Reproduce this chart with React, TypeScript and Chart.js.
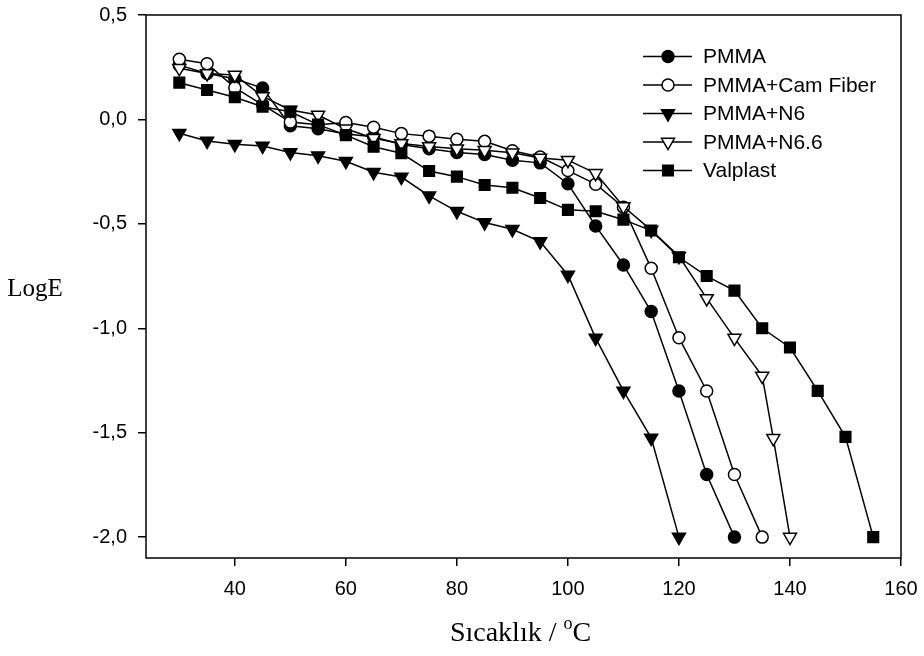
import React, { useEffect, useRef } from 'react';
import { Chart, registerables } from 'chart.js';

Chart.register(...registerables);

// ---- data ----
const pmmaX = [30, 35, 40, 45, 50, 55, 60, 65, 70, 75, 80, 85, 90, 95, 100, 105, 110, 115, 120, 125, 130];
const pmmaY = [0.26, 0.22, 0.195, 0.15, -0.03, -0.045, -0.07, -0.083, -0.12, -0.14, -0.158, -0.168, -0.195, -0.208, -0.308, -0.51, -0.697, -0.92, -1.3, -1.7, -2.0];

const camX = [30, 35, 40, 45, 50, 55, 60, 65, 70, 75, 80, 85, 90, 95, 100, 105, 110, 115, 120, 125, 130, 135];
const camY = [0.288, 0.267, 0.152, 0.07, -0.012, -0.025, -0.015, -0.037, -0.068, -0.08, -0.095, -0.105, -0.15, -0.18, -0.245, -0.31, -0.42, -0.713, -1.045, -1.3, -1.7, -2.0];

const n6X = [30, 35, 40, 45, 50, 55, 60, 65, 70, 75, 80, 85, 90, 95, 100, 105, 110, 115, 120];
const n6Y = [-0.066, -0.103, -0.119, -0.127, -0.158, -0.174, -0.2, -0.253, -0.276, -0.366, -0.44, -0.494, -0.526, -0.585, -0.745, -1.047, -1.3, -1.525, -2.0];

const n66X = [30, 35, 40, 45, 50, 55, 60, 65, 70, 75, 80, 85, 90, 95, 100, 105, 110, 115, 120, 125, 130, 135, 137, 140];
const n66Y = [0.245, 0.22, 0.213, 0.11, 0.045, 0.021, -0.045, -0.09, -0.115, -0.13, -0.14, -0.148, -0.16, -0.185, -0.195, -0.258, -0.417, -0.53, -0.655, -0.857, -1.047, -1.229, -1.527, -2.0];

const valX = [30, 35, 40, 45, 50, 55, 60, 65, 70, 75, 80, 85, 90, 95, 100, 105, 110, 115, 120, 125, 130, 135, 140, 145, 150, 155];
const valY = [0.176, 0.141, 0.106, 0.061, 0.037, -0.025, -0.075, -0.131, -0.162, -0.247, -0.274, -0.314, -0.327, -0.376, -0.433, -0.44, -0.48, -0.532, -0.66, -0.75, -0.82, -1.0, -1.092, -1.3, -1.52, -2.0];

const seriesLabels = ['PMMA', 'PMMA+Cam Fiber', 'PMMA+N6', 'PMMA+N6.6', 'Valplast'];
const xTicks = [40, 60, 80, 100, 120, 140, 160];
const yTicks = [-2.0, -1.5, -1.0, -0.5, 0.0, 0.5];
const xTitleMain = 'Sıcaklık / ';
const xTitleSup = 'o';
const xTitleEnd = 'C';
const yTitle = 'LogE';

type Style = { shape: string; fill: string; r: number; rot: number };
const styles: Style[] = [
  { shape: 'circle', fill: '#000', r: 6, rot: 0 },
  { shape: 'circle', fill: '#fff', r: 6, rot: 0 },
  { shape: 'triangle', fill: '#000', r: 7.5, rot: 180 },
  { shape: 'triangle', fill: '#fff', r: 7.5, rot: 180 },
  { shape: 'rect', fill: '#000', r: 7.5, rot: 0 },
];

function drawMarker(ctx: CanvasRenderingContext2D, s: Style, x: number, y: number) {
  ctx.save();
  ctx.fillStyle = s.fill;
  ctx.strokeStyle = '#000';
  ctx.lineWidth = 1.5;
  ctx.beginPath();
  if (s.shape === 'circle') {
    ctx.arc(x, y, s.r, 0, Math.PI * 2);
  } else if (s.shape === 'rect') {
    const h = (s.r * Math.SQRT2) / 2;
    ctx.rect(x - h, y - h, 2 * h, 2 * h);
  } else {
    let rad = (s.rot * Math.PI) / 180;
    ctx.moveTo(x + Math.sin(rad) * s.r, y - Math.cos(rad) * s.r);
    rad += (2 * Math.PI) / 3;
    ctx.lineTo(x + Math.sin(rad) * s.r, y - Math.cos(rad) * s.r);
    rad += (2 * Math.PI) / 3;
    ctx.lineTo(x + Math.sin(rad) * s.r, y - Math.cos(rad) * s.r);
    ctx.closePath();
  }
  ctx.fill();
  ctx.stroke();
  ctx.restore();
}

const fmt = (v: number) => v.toFixed(1).replace('.', ',');

const App = () => {
  const ref = useRef<HTMLCanvasElement>(null);

  useEffect(() => {
    const canvas = ref.current;
    if (!canvas) return;
    const xs = [pmmaX, camX, n6X, n66X, valX];
    const ys = [pmmaY, camY, n6Y, n66Y, valY];

    const datasets = seriesLabels.map((label, i) => ({
      label,
      data: xs[i].map((x, j) => ({ x, y: ys[i][j] })),
      showLine: true,
      borderColor: '#000',
      borderWidth: 1.5,
      tension: 0,
      fill: false,
      pointStyle: styles[i].shape,
      pointRadius: styles[i].r,
      pointRotation: styles[i].rot,
      pointBackgroundColor: styles[i].fill,
      pointBorderColor: '#000',
      pointBorderWidth: 1.5,
      order: 5 - i,
      clip: false as any,
    }));

    const framePlugin = {
      id: 'frameAndText',
      afterDraw(chart: any) {
        const { ctx, chartArea } = chart;
        ctx.save();
        ctx.strokeStyle = '#000';
        ctx.lineWidth = 1.5;
        ctx.strokeRect(chartArea.left, chartArea.top, chartArea.right - chartArea.left, chartArea.bottom - chartArea.top);

        // legend
        const lx0 = 643, lx1 = 692, mx = 668, tx = 703;
        const rowY = [56.5, 85, 113.5, 142, 170.5];
        ctx.font = '21px "Liberation Sans", Arial, sans-serif';
        ctx.textBaseline = 'middle';
        ctx.textAlign = 'left';
        seriesLabels.forEach((lab, i) => {
          const y = rowY[i];
          ctx.beginPath();
          ctx.moveTo(lx0, y);
          ctx.lineTo(lx1, y);
          ctx.lineWidth = 1.5;
          ctx.strokeStyle = '#000';
          ctx.stroke();
          drawMarker(ctx, styles[i], mx, y);
          ctx.fillStyle = '#000';
          ctx.fillText(lab, tx, y + 1);
        });

        // y axis title
        ctx.fillStyle = '#000';
        ctx.font = '25px "Liberation Serif", "Times New Roman", serif';
        ctx.textAlign = 'center';
        ctx.textBaseline = 'middle';
        ctx.fillText(yTitle, 35, 289);

        // x axis title with superscript o
        const mainFont = '28px "Liberation Serif", "Times New Roman", serif';
        const supFont = '18px "Liberation Serif", "Times New Roman", serif';
        ctx.textAlign = 'left';
        ctx.textBaseline = 'alphabetic';
        ctx.font = mainFont;
        const w1 = ctx.measureText(xTitleMain).width;
        const w3 = ctx.measureText(xTitleEnd).width;
        ctx.font = supFont;
        const w2 = ctx.measureText(xTitleSup).width;
        const total = w1 + w2 + w3;
        const cx = (chartArea.left + chartArea.right) / 2 - 3;
        let x = cx - total / 2;
        const base = 641;
        ctx.font = mainFont;
        ctx.fillText(xTitleMain, x, base);
        x += w1;
        ctx.font = supFont;
        ctx.fillText(xTitleSup, x, base - 12);
        x += w2;
        ctx.font = mainFont;
        ctx.fillText(xTitleEnd, x, base);
        ctx.restore();
      },
    };

    const chart = new Chart(canvas, {
      type: 'scatter',
      data: { datasets: datasets as any },
      options: {
        animation: false,
        responsive: false,
        layout: { padding: { left: 0, top: 15, right: 23, bottom: 0 } },
        plugins: { legend: { display: false }, tooltip: { enabled: false } },
        scales: {
          x: {
            type: 'linear',
            min: 24,
            max: 160,
            afterBuildTicks: (s: any) => { s.ticks = xTicks.map((v) => ({ value: v })); },
            afterFit: (s: any) => { s.height = 98; s.paddingLeft = 0; s.paddingRight = 0; },
            border: { display: false },
            grid: { display: true, drawOnChartArea: false, drawTicks: true, tickLength: 8, color: '#000', lineWidth: 1.5 },
            ticks: {
              color: '#000',
              padding: 11,
              maxRotation: 0,
              autoSkip: false,
              font: { family: '"Liberation Sans", Arial, sans-serif', size: 20 },
              callback: (v: any) => String(v),
            },
          },
          y: {
            type: 'linear',
            min: -2.1,
            max: 0.5,
            afterBuildTicks: (s: any) => { s.ticks = yTicks.map((v) => ({ value: v })); },
            afterFit: (s: any) => { s.width = 146; s.paddingTop = 0; s.paddingBottom = 0; },
            border: { display: false },
            grid: { display: true, drawOnChartArea: false, drawTicks: true, tickLength: 8, color: '#000', lineWidth: 1.5 },
            ticks: {
              color: '#000',
              padding: 11,
              autoSkip: false,
              font: { family: '"Liberation Sans", Arial, sans-serif', size: 20 },
              callback: (v: any) => fmt(Number(v)),
            },
          },
        },
      },
      plugins: [framePlugin],
    });
    return () => chart.destroy();
  }, []);

  return (
    <div style={{ position: 'fixed', left: 0, top: 0, width: 924, height: 656, background: '#fff' }}>
      <canvas ref={ref} width={924} height={656} style={{ width: 924, height: 656, display: 'block' }} />
    </div>
  );
};

export default App;
